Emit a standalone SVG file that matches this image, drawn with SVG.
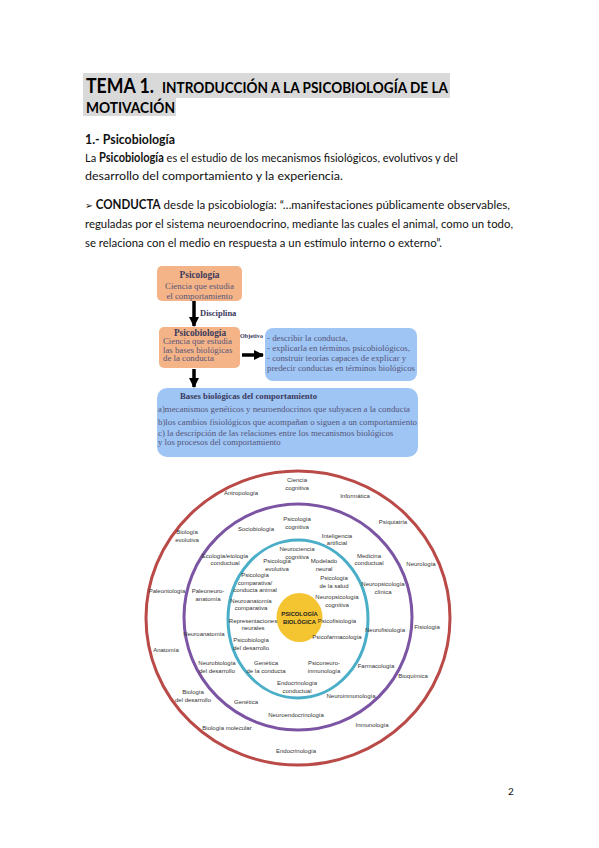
<svg xmlns="http://www.w3.org/2000/svg" width="599" height="848" viewBox="0 0 599 848">
<style>
.tt{font-family:Lato,"Liberation Sans",sans-serif;font-weight:bold;fill:#000}
.body{font-family:Lato,"Liberation Sans",sans-serif;font-size:12.3px;fill:#111}
.b{font-weight:bold}
.fc{font-family:"Liberation Serif","Times New Roman",serif;font-size:8.8px;fill:#55557a}
.fcb{font-weight:bold;fill:#3a3a5c}
.orange{fill:#f5b487}
.blue{fill:#9fc5f4}
.ar{stroke:#000;stroke-width:3.5;fill:none}
.cl{font-family:"Liberation Sans",Arial,sans-serif;font-size:6px;fill:#333;text-anchor:middle}
.ring{fill:none;stroke-width:3}
</style>
<defs>
<marker id="ah" markerUnits="userSpaceOnUse" markerWidth="10" markerHeight="10" refX="9" refY="5" orient="auto">
<path d="M0,0 L10,5 L0,10 z" fill="#000"/>
</marker>
</defs>
<rect width="599" height="848" fill="#fff"/>

<g id="title">
<rect x="83" y="73" width="367" height="25" fill="#d9d9d9"/>
<rect x="83" y="98" width="93" height="18" fill="#d9d9d9"/>
<text class="tt" x="86" y="93" style="font-size:21px" textLength="68" lengthAdjust="spacingAndGlyphs">TEMA 1.</text>
<text class="tt" x="162" y="93" style="font-size:15.5px" textLength="286" lengthAdjust="spacingAndGlyphs">INTRODUCCIÓN A LA PSICOBIOLOGÍA DE LA</text>
<text class="tt" x="86" y="113" style="font-size:15.5px" textLength="89" lengthAdjust="spacingAndGlyphs">MOTIVACIÓN</text>
</g>

<g id="paragraph">
<text class="body b" x="85" y="144" textLength="90" lengthAdjust="spacingAndGlyphs">1.- Psicobiología</text>
<text class="body" x="85" y="162" textLength="373" lengthAdjust="spacingAndGlyphs">La <tspan class="b">Psicobiología</tspan> es el estudio de los mecanismos fisiológicos, evolutivos y del</text>
<text class="body" x="85" y="180" textLength="258" lengthAdjust="spacingAndGlyphs">desarrollo del comportamiento y la experiencia.</text>
<text class="body" x="85" y="209" textLength="425" lengthAdjust="spacingAndGlyphs"><tspan style="font-family:'DejaVu Sans',sans-serif;font-size:10px">➢</tspan> <tspan class="b">CONDUCTA</tspan> desde la psicobiología: “…manifestaciones públicamente observables,</text>
<text class="body" x="85" y="228" textLength="428" lengthAdjust="spacingAndGlyphs">reguladas por el sistema neuroendocrino, mediante las cuales el animal, como un todo,</text>
<text class="body" x="85" y="247" textLength="357" lengthAdjust="spacingAndGlyphs">se relaciona con el medio en respuesta a un estímulo interno o externo”.</text>
</g>

<g id="psicologia">
<rect class="orange" x="157" y="266" width="85" height="35" rx="5"/>
<text class="fc fcb" x="199.5" y="277.5" text-anchor="middle" style="font-size:9.3px">Psicología</text>
<text class="fc" x="199.5" y="289" text-anchor="middle">Ciencia que estudia</text>
<text class="fc" x="199.5" y="298.5" text-anchor="middle">el comportamiento</text>
</g>

<g id="psicobiologia">
<rect class="orange" x="159" y="327" width="81" height="41" rx="5"/>
<text class="fc fcb" x="200" y="335.5" text-anchor="middle" style="font-size:9.3px">Psicobiología</text>
<text class="fc" x="163" y="344">Ciencia que estudia</text>
<text class="fc" x="163" y="352.5">las bases biológicas</text>
<text class="fc" x="163" y="361">de la conducta</text>
</g>

<g id="objetivo">
<rect class="blue" x="265" y="328" width="152" height="53" rx="8"/>
<text class="fc" x="267" y="341">- describir la conducta,</text>
<text class="fc" x="267" y="351">- explicarla en términos  psicobiológicos,</text>
<text class="fc" x="267" y="361">- construir teorías capaces de explicar y</text>
<text class="fc" x="267" y="371" textLength="148" lengthAdjust="spacingAndGlyphs">predecir conductas en términos biológicos</text>
</g>

<g id="bases">
<rect class="blue" x="157" y="388" width="261" height="69" rx="10"/>
<text class="fc fcb" x="180" y="398.5" textLength="137" lengthAdjust="spacingAndGlyphs">Bases biológicas del comportamiento</text>
<text class="fc" x="158" y="411.5" textLength="252" lengthAdjust="spacingAndGlyphs">a)mecanismos genéticos y neuroendocrinos que subyacen a la conducta</text>
<text class="fc" x="158" y="424.5" textLength="259" lengthAdjust="spacingAndGlyphs">b)los cambios fisiológicos que acompañan o siguen a un comportamiento</text>
<text class="fc" x="158" y="436">c) la descripción de las relaciones entre los mecanismos biológicos</text>
<text class="fc" x="158" y="445">y los procesos del comportamiento</text>
</g>

<g id="connectors">
<line class="ar" x1="194" y1="301" x2="194" y2="326" marker-end="url(#ah)"/>
<text class="fc fcb" x="200" y="316" style="font-size:8.5px">Disciplina</text>
<line class="ar" x1="242" y1="355" x2="263" y2="355" marker-end="url(#ah)"/>
<text class="fc fcb" x="240" y="338" style="font-size:5.8px" textLength="23" lengthAdjust="spacingAndGlyphs">Objetivo</text>
<line class="ar" x1="194" y1="369" x2="194" y2="387" marker-end="url(#ah)"/>
</g>

<g id="rings">
<ellipse class="ring" cx="298" cy="618" rx="152" ry="147" stroke="#b94a48"/>
<ellipse class="ring" cx="298" cy="617" rx="114" ry="113" stroke="#7b55a3"/>
<ellipse class="ring" cx="298" cy="619" rx="70" ry="79" stroke="#4aaec8"/>
</g>

<g id="center">
<ellipse cx="299.5" cy="617.5" rx="23" ry="24.5" fill="#f5c431"/>
<text class="cl" x="299.5" y="615.5" style="font-weight:bold;font-size:5.8px;fill:#222">PSICOLOGÍA</text>
<text class="cl" x="299.5" y="624" style="font-weight:bold;font-size:5.8px;fill:#222">BIOLÓGICA</text>
</g>

<g id="outer-labels">
<text class="cl" x="297" y="482">Ciencia</text>
<text class="cl" x="297" y="490">cognitiva</text>
<text class="cl" x="241" y="495">Antropología</text>
<text class="cl" x="355" y="498">Informática</text>
<text class="cl" x="393" y="524">Psiquiatría</text>
<text class="cl" x="187" y="534">Biología</text>
<text class="cl" x="187" y="542">evolutiva</text>
<text class="cl" x="421" y="566">Neurología</text>
<text class="cl" x="167" y="593">Paleontología</text>
<text class="cl" x="427" y="629">Fisiología</text>
<text class="cl" x="166" y="651.5">Anatomía</text>
<text class="cl" x="413" y="678">Bioquímica</text>
<text class="cl" x="193" y="694">Biología</text>
<text class="cl" x="193" y="702">del desarrollo</text>
<text class="cl" x="372" y="727">Inmunología</text>
<text class="cl" x="227" y="730">Biología molecular</text>
<text class="cl" x="296" y="753">Endocrinología</text>
</g>

<g id="middle-labels">
<text class="cl" x="256" y="531">Sociobiología</text>
<text class="cl" x="297" y="521">Psicología</text>
<text class="cl" x="297" y="529">cognitiva</text>
<text class="cl" x="337" y="537.5">Inteligencia</text>
<text class="cl" x="337" y="545">artificial</text>
<text class="cl" x="225" y="557.5">Ecología/etología</text>
<text class="cl" x="225" y="565">conductual</text>
<text class="cl" x="369" y="557.5">Medicina</text>
<text class="cl" x="369" y="565">conductual</text>
<text class="cl" x="208" y="593">Paleoneuro-</text>
<text class="cl" x="208" y="600.5">anatomía</text>
<text class="cl" x="383" y="586">Neuropsicología</text>
<text class="cl" x="383" y="594">clínica</text>
<text class="cl" x="204" y="635.5">Neuroanatomía</text>
<text class="cl" x="385" y="632">Neurofisiología</text>
<text class="cl" x="217" y="665">Neurobiología</text>
<text class="cl" x="217" y="673">del desarrollo</text>
<text class="cl" x="376" y="668">Farmacología</text>
<text class="cl" x="246" y="704">Genética</text>
<text class="cl" x="351" y="698">Neuroinmunología</text>
<text class="cl" x="296" y="717">Neuroendocrinología</text>
</g>

<g id="inner-labels">
<text class="cl" x="297" y="550.5">Neurociencia</text>
<text class="cl" x="297" y="558.5">cognitiva</text>
<text class="cl" x="277" y="563">Psicología</text>
<text class="cl" x="277" y="571">evolutiva</text>
<text class="cl" x="324" y="563">Modelado</text>
<text class="cl" x="324" y="571">neural</text>
<text class="cl" x="255" y="576.5">Psicología</text>
<text class="cl" x="255" y="584.5">comparativa/</text>
<text class="cl" x="255" y="592">conducta animal</text>
<text class="cl" x="334" y="580">Psicología</text>
<text class="cl" x="334" y="588">de la salud</text>
<text class="cl" x="337" y="599">Neuropsicología</text>
<text class="cl" x="337" y="607">cognitiva</text>
<text class="cl" x="251" y="602.5">Neuroanatomía</text>
<text class="cl" x="251" y="610">comparativa</text>
<text class="cl" x="253" y="622.5">Representaciones</text>
<text class="cl" x="253" y="630">neurales</text>
<text class="cl" x="337" y="622.5">Psicofisiología</text>
<text class="cl" x="251" y="642">Psicobiología</text>
<text class="cl" x="251" y="650">del desarrollo</text>
<text class="cl" x="337" y="639">Psicofarmacología</text>
<text class="cl" x="266" y="665">Genética</text>
<text class="cl" x="266" y="673">de la conducta</text>
<text class="cl" x="324" y="665">Psiconeuro-</text>
<text class="cl" x="324" y="673">inmunología</text>
<text class="cl" x="297" y="684.5">Endocrinología</text>
<text class="cl" x="297" y="692.5">conductual</text>
</g>

<g id="page-number">
<text x="511" y="795" style="font-family:Lato,'Liberation Sans',sans-serif;font-size:10px;fill:#111" text-anchor="middle">2</text>
</g>
</svg>
